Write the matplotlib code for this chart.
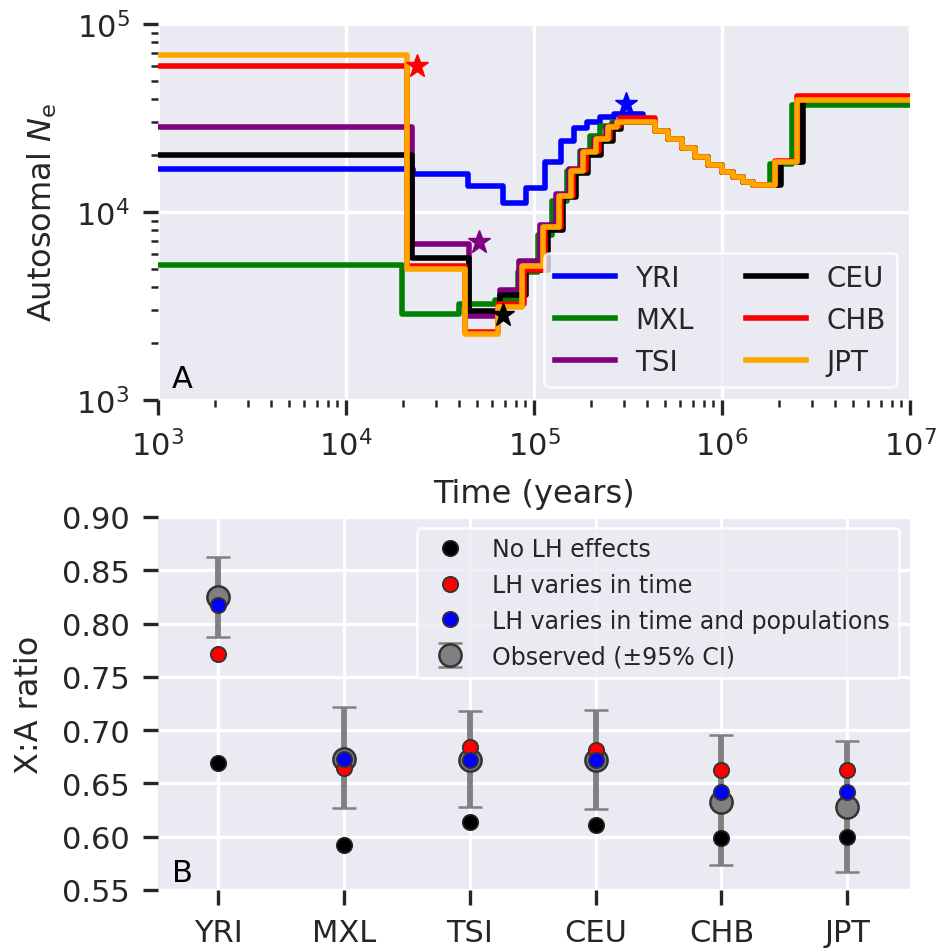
import numpy as np
import matplotlib.pyplot as plt

# ---- panel A: Ne through time (step curves) ----
pops = ['YRI', 'MXL', 'TSI', 'CEU', 'CHB', 'JPT']
colors = ['blue', 'green', 'purple', 'black', 'red', 'orange']

yri_t = [1e3, 2.27e4, 4.44e4, 6.8e4, 9.06e4, 1.15e5, 1.40e5, 1.63e5, 1.92e5, 2.25e5, 2.65e5, 3.8e5]
yri_ne = [1.70e4, 1.60e4, 1.38e4, 1.12e4, 1.34e4, 1.85e4, 2.39e4, 2.79e4, 3.0e4, 3.19e4, 3.32e4, 3.0e4]

mxl_t = [1e3, 1.98e4, 3.99e4, 6.2e4, 8.2e4, 1.05e5, 1.25e5, 1.5e5, 1.76e5, 1.98e5, 2.25e5, 2.6e5]
mxl_ne = [5.22e3, 2.87e3, 3.24e3, 3.42e3, 4.8e3, 7.5e3, 1.15e4, 1.66e4, 2.12e4, 2.55e4, 2.88e4, 3.0e4]

tsi_t = [1e3, 2.24e4, 4.5e4, 6.6e4, 8.3e4, 1.08e5, 1.31e5, 1.53e5, 1.78e5, 2.09e5, 2.41e5, 2.7e5]
tsi_ne = [2.82e4, 6.76e3, 2.81e3, 3.83e3, 5.5e3, 8.5e3, 1.25e4, 1.7e4, 2.1e4, 2.45e4, 2.82e4, 3.0e4]

ceu_t = [1e3, 2.24e4, 4.5e4, 6.6e4, 9.1e4, 1.18e5, 1.43e5, 1.67e5, 1.94e5, 2.28e5, 2.63e5, 2.92e5]
ceu_ne = [2.02e4, 5.68e3, 2.99e3, 3.62e3, 4.9e3, 8.0e3, 1.2e4, 1.62e4, 2.02e4, 2.4e4, 2.78e4, 3.0e4]

chb_t = [1e3, 2.1e4, 4.3e4, 6.4e4, 8.8e4, 1.14e5, 1.39e5, 1.62e5, 1.89e5, 2.22e5, 2.55e5, 2.85e5]
chb_ne = [5.98e4, 5.14e3, 2.30e3, 3.24e3, 4.9e3, 8.3e3, 1.22e4, 1.68e4, 2.1e4, 2.48e4, 2.86e4, 3.16e4]

jpt_t = [1e3, 2.1e4, 4.3e4, 6.46e4, 8.59e4, 1.11e5, 1.35e5, 1.57e5, 1.83e5, 2.15e5, 2.48e5, 2.75e5]
jpt_ne = [6.87e4, 4.98e3, 2.24e3, 3.11e3, 5.18e3, 8.3e3, 1.22e4, 1.66e4, 2.08e4, 2.44e4, 2.82e4, 3.0e4]

# shared ancient part
anc_t = [4.4e5, 5.17e5, 6.13e5, 7.18e5, 8.43e5, 1.0e6, 1.15e6, 1.29e6, 1.46e6]
anc_ne = [2.7e4, 2.43e4, 2.2e4, 1.97e4, 1.78e4, 1.63e4, 1.54e4, 1.45e4, 1.39e4]

mid_t = [1.95e6, 1.80e6, 1.95e6, 2.05e6, 1.91e6, 1.91e6]
mid_ne = [1.85e4, 1.80e4, 1.85e4, 1.85e4, 1.87e4, 1.85e4]
end_t = [2.6e6, 2.35e6, 2.6e6, 2.69e6, 2.51e6, 2.51e6]
end_ne = [3.9e4, 3.71e4, 4.05e4, 4.0e4, 4.12e4, 3.95e4]

star_pops = ['YRI', 'CHB', 'TSI', 'CEU']
star_t = [3.08e5, 2.39e4, 5.09e4, 6.84e4]
star_ne = [3.75e4, 6.0e4, 6.92e3, 2.83e3]

# ---- panel B: X:A ratios ----
no_lh = [0.669, 0.592, 0.614, 0.611, 0.599, 0.600]
lh_time = [0.771, 0.664, 0.684, 0.681, 0.663, 0.663]
lh_time_pop = [0.817, 0.673, 0.672, 0.672, 0.642, 0.642]
observed = [0.825, 0.673, 0.672, 0.672, 0.633, 0.628]
ci_low = [0.787, 0.627, 0.628, 0.626, 0.573, 0.567]
ci_high = [0.862, 0.722, 0.718, 0.719, 0.695, 0.690]

ink = '#262626'
plt.rcParams['font.family'] = 'DejaVu Sans'
plt.rcParams['text.color'] = ink
plt.rcParams['axes.labelcolor'] = ink
plt.rcParams['xtick.color'] = ink
plt.rcParams['ytick.color'] = ink
plt.rcParams['mathtext.default'] = 'regular'

fig = plt.figure(figsize=(9.37, 9.53), dpi=100)
ax1 = fig.add_axes([0.1686, 0.5792, 0.8026, 0.3946])
ax2 = fig.add_axes([0.1686, 0.0651, 0.8026, 0.3914])

for ax in (ax1, ax2):
    ax.set_facecolor('#EAEAF2')
    ax.set_axisbelow(True)
    ax.grid(True, which='major', color='white', linewidth=2.3)
    for s in ax.spines.values():
        s.set_visible(False)
    ax.tick_params(which='major', length=10.5, width=2.4, labelsize=22, pad=10)
    ax.tick_params(which='minor', length=5, width=1.8)

series_t = [yri_t, mxl_t, tsi_t, ceu_t, chb_t, jpt_t]
series_ne = [yri_ne, mxl_ne, tsi_ne, ceu_ne, chb_ne, jpt_ne]
for i, p in enumerate(pops):
    t = series_t[i] + anc_t + [mid_t[i], end_t[i], 1e7]
    ne = series_ne[i] + anc_ne + [mid_ne[i], end_ne[i], end_ne[i]]
    ax1.step(t, ne, where='post', color=colors[i], lw=4, label=p)

for p, t, n in zip(star_pops, star_t, star_ne):
    ax1.plot(t, n, '*', color=colors[pops.index(p)], markersize=17, zorder=5)

ax1.set_xscale('log')
ax1.set_yscale('log')
ax1.set_xlim(1e3, 1e7)
ax1.set_ylim(1e3, 1e5)
ax1.set_xlabel('Time (years)', fontsize=23, labelpad=12)
ax1.set_ylabel('Autosomal $\\mathit{N}_\\mathrm{e}$', fontsize=23, labelpad=12)
ax1.text(0.018, 0.035, 'A', transform=ax1.transAxes, fontsize=22, color='black')
leg1 = ax1.legend(loc='lower right', ncol=2, fontsize=20, frameon=True,
                  facecolor='#EAEAF2', edgecolor='white', framealpha=0.8,
                  borderaxespad=0.47, columnspacing=1.9, handlelength=2.16,
                  handletextpad=0.72, labelspacing=0.5)
leg1.get_frame().set_linewidth(2)

x = np.arange(len(pops))
obs_low = [o - l for o, l in zip(observed, ci_low)]
obs_high = [h - o for o, h in zip(observed, ci_high)]
ax2.errorbar(x, observed, yerr=[obs_low, obs_high], fmt='o', color='gray',
             ecolor='gray', elinewidth=4.2, capsize=8.5, capthick=1.8,
             markersize=16, markeredgecolor='#333333', markeredgewidth=1.8,
             label='Observed (±95% CI)', zorder=3)
ax2.plot(x, no_lh, 'o', color='black', markersize=11, markeredgecolor='#222222',
         markeredgewidth=1.3, label='No LH effects', zorder=4)
ax2.plot(x, lh_time, 'o', color='red', markersize=11, markeredgecolor='#333333',
         markeredgewidth=1.3, label='LH varies in time', zorder=4)
ax2.plot(x, lh_time_pop, 'o', color='blue', markersize=11, markeredgecolor='#333333',
         markeredgewidth=1.3, label='LH varies in time and populations', zorder=4)

ax2.set_xlim(-0.48, 5.5)
ax2.set_ylim(0.55, 0.90)
ax2.set_xticks(x)
ax2.set_xticklabels(pops)
ax2.set_yticks(np.arange(0.55, 0.91, 0.05))
ax2.set_yticklabels(['%.2f' % v for v in np.arange(0.55, 0.91, 0.05)])
ax2.set_ylabel('X:A ratio', fontsize=23, labelpad=12)
ax2.text(0.018, 0.025, 'B', transform=ax2.transAxes, fontsize=22, color='black')
leg2 = ax2.legend(loc='upper right', fontsize=17, frameon=True,
                  facecolor='#EAEAF2', edgecolor='white', framealpha=0.8,
                  borderaxespad=0.45, labelspacing=0.5, handletextpad=0.8)
leg2.get_frame().set_linewidth(2)

fig.savefig('out.png', dpi=100)
